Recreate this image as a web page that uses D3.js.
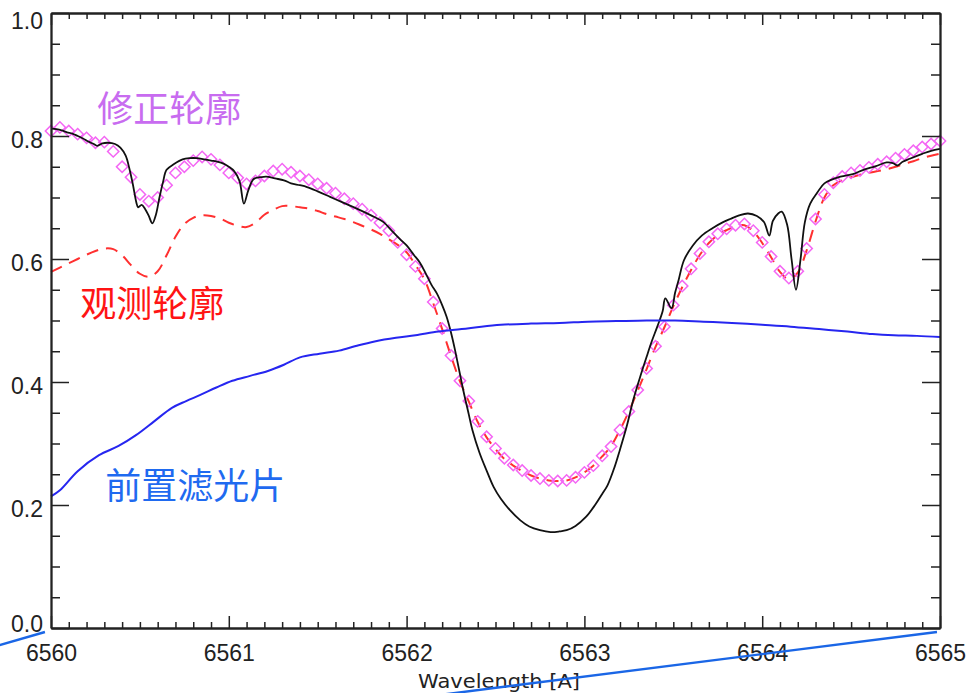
<!DOCTYPE html>
<html><head><meta charset="utf-8">
<script src="https://cdn.jsdelivr.net/npm/d3@7"></script>
<style>html,body{margin:0;padding:0;background:#fff;}svg{display:block;}</style>
</head><body>
<svg id="chart" width="968" height="693"></svg>
<script>
// ---------- DATA ----------
const xTicks = [6560, 6561, 6562, 6563, 6564, 6565];
const yTicks = [0.0, 0.2, 0.4, 0.6, 0.8, 1.0];
const yTickLabels = ["0.0", "0.2", "0.4", "0.6", "0.8", "1.0"];
const xTitle = "Wavelength [A]";

// wavelength grid of the corrected / observed profiles (0.05 A step)
const profileWave = d3.range(0, 101).map(i => +(6560 + i * 0.05).toFixed(2));

// 修正轮廓 (corrected profile, diamonds)
const correctedFlux = [
  0.808,0.814,0.808,0.803,0.797,0.789,0.790,0.775,0.750,0.733,
  0.705,0.694,0.700,0.720,0.740,0.750,0.760,0.766,0.762,0.753,
  0.740,0.732,0.722,0.727,0.735,0.743,0.746,0.741,0.735,0.729,
  0.722,0.715,0.707,0.698,0.690,0.681,0.671,0.659,0.646,0.627,
  0.607,0.588,0.568,0.530,0.487,0.443,0.402,0.369,0.336,0.311,
  0.292,0.276,0.265,0.256,0.248,0.243,0.240,0.239,0.240,0.245,
  0.253,0.264,0.280,0.295,0.322,0.352,0.387,0.422,0.458,0.490,
  0.525,0.556,0.584,0.609,0.628,0.641,0.649,0.655,0.657,0.646,
  0.627,0.604,0.580,0.569,0.580,0.617,0.665,0.705,0.724,0.734,
  0.740,0.744,0.749,0.754,0.758,0.764,0.770,0.776,0.782,0.787,
  0.792
];

// 观测轮廓 (observed profile, red dashed)
const observedFlux = [
  0.579,0.586,0.593,0.600,0.607,0.613,0.617,0.616,0.606,0.590,
  0.576,0.571,0.580,0.606,0.636,0.657,0.667,0.671,0.670,0.666,
  0.659,0.654,0.652,0.659,0.672,0.680,0.686,0.686,0.684,0.682,
  0.678,0.673,0.669,0.665,0.660,0.654,0.648,0.641,0.632,0.623,
  0.611,0.590,0.567,0.528,0.486,0.442,0.401,0.368,0.335,0.310,
  0.291,0.275,0.264,0.255,0.248,0.243,0.240,0.239,0.240,0.245,
  0.253,0.264,0.279,0.296,0.322,0.352,0.386,0.421,0.457,0.489,
  0.523,0.554,0.582,0.607,0.626,0.639,0.647,0.653,0.655,0.645,
  0.626,0.603,0.579,0.567,0.578,0.614,0.661,0.700,0.720,0.728,
  0.733,0.737,0.740,0.743,0.746,0.750,0.755,0.759,0.764,0.768,
  0.771
];

// reference (black) profile
const atlasWave = [
  6560.00,6560.03,6560.06,6560.09,6560.12,6560.15,6560.18,6560.21,6560.24,6560.26,
  6560.29,6560.32,6560.36,6560.39,6560.42,6560.44,6560.46,6560.48,6560.49,6560.51,
  6560.53,6560.55,6560.57,6560.59,6560.61,6560.63,6560.65,6560.69,6560.74,6560.78,
  6560.82,6560.86,6560.90,6560.94,6560.97,6561.00,6561.03,6561.06,6561.085,6561.11,
  6561.14,6561.18,6561.21,6561.26,6561.31,6561.35,6561.40,6561.44,6561.50,6561.57,
  6561.64,6561.72,6561.80,6561.87,6561.92,6561.96,6562.00,6562.04,6562.075,6562.11,
  6562.14,6562.17,6562.20,6562.225,6562.25,6562.27,6562.30,6562.32,6562.35,6562.37,
  6562.41,6562.45,6562.49,6562.53,6562.58,6562.64,6562.69,6562.75,6562.81,6562.86,
  6562.90,6562.95,6563.01,6563.06,6563.10,6563.13,6563.17,6563.20,6563.24,6563.275,
  6563.31,6563.35,6563.38,6563.41,6563.44,6563.455,6563.49,6563.51,6563.53,6563.56,
  6563.61,6563.66,6563.72,6563.78,6563.82,6563.87,6563.92,6563.97,6564.01,6564.04,
  6564.06,6564.09,6564.11,6564.14,6564.165,6564.19,6564.215,6564.24,6564.27,6564.31,
  6564.35,6564.44,6564.51,6564.57,6564.64,6564.70,6564.735,6564.76,6564.79,6564.83,
  6564.90,6564.95,6565.00
];
const atlasFlux = [
  0.812,0.811,0.809,0.806,0.804,0.800,0.796,0.791,0.787,0.784,
  0.788,0.789,0.787,0.781,0.768,0.748,0.722,0.692,0.684,0.688,
  0.681,0.670,0.658,0.672,0.700,0.725,0.745,0.754,0.762,0.764,
  0.764,0.762,0.760,0.758,0.755,0.750,0.743,0.727,0.690,0.712,
  0.730,0.733,0.734,0.731,0.728,0.723,0.720,0.717,0.710,0.701,
  0.692,0.682,0.671,0.660,0.645,0.633,0.622,0.607,0.594,0.575,
  0.558,0.544,0.525,0.506,0.480,0.455,0.413,0.385,0.347,0.322,
  0.285,0.256,0.229,0.210,0.192,0.175,0.165,0.159,0.156,0.157,
  0.159,0.166,0.181,0.200,0.218,0.232,0.262,0.290,0.330,0.371,
  0.405,0.441,0.467,0.490,0.515,0.536,0.520,0.545,0.566,0.598,
  0.622,0.638,0.650,0.660,0.665,0.671,0.674,0.670,0.660,0.638,
  0.662,0.674,0.677,0.656,0.600,0.550,0.598,0.660,0.690,0.708,
  0.723,0.734,0.738,0.745,0.751,0.757,0.756,0.752,0.758,0.763,
  0.771,0.776,0.779
];

// 前置滤光片 (prefilter transmission, blue)
const filterWave = [
  6560.00,6560.05,6560.15,6560.27,6560.38,6560.48,6560.58,6560.68,6560.76,6560.84,
  6560.93,6561.02,6561.12,6561.22,6561.31,6561.40,6561.51,6561.62,6561.72,6561.82,
  6561.94,6562.05,6562.18,6562.31,6562.42,6562.53,6562.70,6562.86,6563.02,6563.18,
  6563.35,6563.51,6563.67,6563.83,6564.00,6564.16,6564.32,6564.48,6564.62,6564.74,
  6564.87,6565.00
];
const filterFlux = [
  0.214,0.224,0.255,0.281,0.296,0.314,0.336,0.358,0.369,0.379,
  0.391,0.402,0.410,0.418,0.428,0.440,0.446,0.451,0.459,0.466,
  0.472,0.476,0.482,0.486,0.490,0.493,0.495,0.496,0.498,0.499,
  0.500,0.500,0.498,0.496,0.493,0.490,0.486,0.482,0.478,0.476,
  0.475,0.473
];

// text labels in data coordinates
const labelTexts = ["修正轮廓", "观测轮廓", "前置滤光片"];
const labelWave = [6560.26, 6560.165, 6560.305];
const labelFlux = [0.822, 0.506, 0.210];
const labelColors = ["#c86cf0", "#ff1414", "#1f6af0"];

// blue annotation strokes below the axis (data coordinates)
const annotLines = [
  [[6559.70, -0.0286], [6559.966, -0.0065]],
  [[6564.983, -0.0065], [6562.139, -0.1106]]
];

// ---------- LAYOUT ----------
const svg = d3.select("#chart");
svg.append("rect").attr("width", 968).attr("height", 693).attr("fill", "#fff");
const L = 51, R = 940, T = 13, B = 628;
const x = d3.scaleLinear().domain([6560, 6565]).range([L, R]);
const y = d3.scaleLinear().domain([0, 1]).range([B, T]);

const mkLine = () => d3.line().x(d => x(d[0])).y(d => y(d[1])).curve(d3.curveCatmullRom);

// observed (red dashed)
svg.append("path")
  .attr("d", mkLine()(profileWave.map((w, i) => [w, observedFlux[i]])))
  .attr("fill", "none").attr("stroke", "#ff3030").attr("stroke-width", 2)
  .attr("stroke-dasharray", "12,8");

// corrected (diamonds)
const dsym = d3.symbol().type(d3.symbolSquare).size(64);
svg.append("g").selectAll("path")
  .data(profileWave.map((w, i) => [w, correctedFlux[i]]))
  .join("path")
  .attr("d", dsym)
  .attr("transform", d => `translate(${x(d[0])},${y(d[1])}) rotate(45)`)
  .attr("fill", "none").attr("stroke", "#f466f4").attr("stroke-width", 1.5);

// atlas (black)
svg.append("path")
  .attr("d", mkLine()(atlasWave.map((w, i) => [w, atlasFlux[i]])))
  .attr("fill", "none").attr("stroke", "#111").attr("stroke-width", 1.8)
  .attr("stroke-linejoin", "round");

// filter (blue)
svg.append("path")
  .attr("d", mkLine()(filterWave.map((w, i) => [w, filterFlux[i]])))
  .attr("fill", "none").attr("stroke", "#2626f0").attr("stroke-width", 2);

// ---------- AXES ----------
const minorX = d3.range(0, 51).map(i => 6560 + i * 0.1).filter((v, i) => i % 10 !== 0);
const minorY = d3.range(0, 21).map(i => i * 0.05).filter((v, i) => i % 4 !== 0);
const fontTick = "'Liberation Sans', Arial, Helvetica, sans-serif";

function styleAxis(g) {
  g.selectAll(".domain").attr("stroke", "#222").attr("stroke-width", 1.8);
  g.selectAll(".tick line").attr("stroke", "#222").attr("stroke-width", 1.5);
  g.selectAll(".tick text").attr("fill", "#222").style("font-family", fontTick).style("font-size", "23px");
}

// bottom
svg.append("g").attr("transform", `translate(0,${B})`)
  .call(d3.axisBottom(x).tickValues(xTicks).tickFormat(d3.format("d")).tickSize(-12).tickSizeOuter(0).tickPadding(17))
  .call(styleAxis);
svg.append("g").attr("transform", `translate(0,${B})`)
  .call(d3.axisBottom(x).tickValues(minorX).tickFormat("").tickSize(-6).tickSizeOuter(0))
  .call(styleAxis);
// top
svg.append("g").attr("transform", `translate(0,${T})`)
  .call(d3.axisTop(x).tickValues(xTicks).tickFormat("").tickSize(-12).tickSizeOuter(0))
  .call(styleAxis);
svg.append("g").attr("transform", `translate(0,${T})`)
  .call(d3.axisTop(x).tickValues(minorX).tickFormat("").tickSize(-6).tickSizeOuter(0))
  .call(styleAxis);
// left
const yLabelShift = [-5, 3, 3, 3, 3, 7];
svg.append("g").attr("transform", `translate(${L},0)`)
  .call(d3.axisLeft(y).tickValues(yTicks).tickFormat((d, i) => yTickLabels[i]).tickSize(-18).tickSizeOuter(0).tickPadding(8))
  .call(styleAxis)
  .call(g => g.selectAll(".tick text").attr("dy", (d, i) => (yLabelShift[i] + 8) + "px"));
svg.append("g").attr("transform", `translate(${L},0)`)
  .call(d3.axisLeft(y).tickValues(minorY).tickFormat("").tickSize(-9).tickSizeOuter(0))
  .call(styleAxis);
// right
svg.append("g").attr("transform", `translate(${R},0)`)
  .call(d3.axisRight(y).tickValues(yTicks).tickFormat("").tickSize(-18).tickSizeOuter(0))
  .call(styleAxis);
svg.append("g").attr("transform", `translate(${R},0)`)
  .call(d3.axisRight(y).tickValues(minorY).tickFormat("").tickSize(-9).tickSizeOuter(0))
  .call(styleAxis);

// x title
svg.append("text")
  .attr("x", x(6562.52)).attr("y", 688)
  .attr("text-anchor", "middle")
  .style("font-family", "'DejaVu Sans', Verdana, sans-serif")
  .style("font-size", "20px").attr("fill", "#222")
  .attr("textLength", 162).attr("lengthAdjust", "spacingAndGlyphs")
  .text(xTitle);

// labels
svg.append("g").selectAll("text")
  .data(labelTexts)
  .join("text")
  .attr("x", (d, i) => x(labelWave[i]))
  .attr("y", (d, i) => y(labelFlux[i]))
  .attr("fill", (d, i) => labelColors[i])
  .style("font-family", "'Noto Sans CJK SC', sans-serif")
  .style("font-size", "36px")
  .text(d => d);

// annotation strokes
svg.append("g").selectAll("path")
  .data(annotLines)
  .join("path")
  .attr("d", d => d3.line().x(p => x(p[0])).y(p => y(p[1]))(d))
  .attr("stroke", "#1a66e6").attr("stroke-width", 2.4).attr("fill", "none");
</script>
</body></html>
